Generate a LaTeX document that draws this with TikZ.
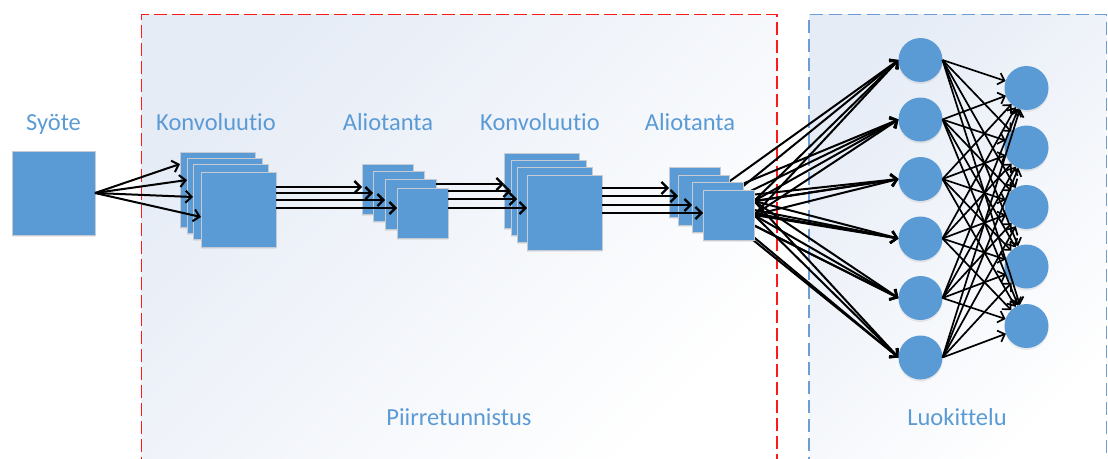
\documentclass[tikz,border=0pt]{standalone}
\usepackage{fontspec}
\setmainfont{Carlito}[Ligatures=NoCommon]
\usetikzlibrary{arrows.meta,shadows,calc}
\pgfdeclarelayer{bg}
\pgfdeclarelayer{fan}
\pgfsetlayers{bg,fan,main}

\definecolor{nodeblue}{HTML}{5B9BD5}
\definecolor{labelblue}{HTML}{5B9BD5}
\definecolor{sqedge}{HTML}{C6CBD3}
\definecolor{paneltop}{HTML}{E6ECF6}
\definecolor{redline}{HTML}{FF1A1A}
\definecolor{blueline}{HTML}{6E9DD6}

\begin{document}
\begin{tikzpicture}[
  x=1pt, y=-1pt,
  sq/.style={rectangle, fill=nodeblue, draw=sqedge, line width=0.8pt,
    inner sep=0pt, outer sep=0pt, anchor=north west,
    drop shadow={opacity=0.15, shadow xshift=0pt, shadow yshift=-2pt}},
  bigmap/.style={sq, minimum width=75pt, minimum height=75pt},
  smallmap/.style={sq, minimum width=51pt, minimum height=50pt},
  neuron/.style={circle, fill=nodeblue, minimum size=44pt, inner sep=0pt, outer sep=0pt,
    drop shadow={opacity=0.15, shadow xshift=0pt, shadow yshift=-2pt}},
  lbl/.style={text=labelblue, font=\fontsize{24.5}{29}\selectfont, anchor=base, inner sep=0pt},
  link/.style={draw=black, line width=2pt, -{Straight Barb[length=6pt,width=12pt]}},
  flow/.style={draw=black, line width=2.3pt, -{Straight Barb[length=6pt,width=12pt]}},
  redpanel/.style={draw=redline, line width=1.5pt, dash pattern=on 13pt off 5pt},
  bluepanel/.style={draw=blueline, line width=1.5pt, dash pattern=on 13pt off 6pt},
  panelfill/.style={top color=paneltop, middle color=paneltop!35!white,
    bottom color=white, shading angle=45}
]
\useasboundingbox (0,0) rectangle (1108,458);
\clip (0,0) rectangle (1108,458);

% two panels, open at the bottom
\begin{pgfonlayer}{bg}
  \shade[panelfill] (141.5,14.5) rectangle (777,470);
  \shade[panelfill] (809,14.5) rectangle (1106.5,470);
  \draw[redpanel] (141.5,470) -- (141.5,14.5) -- (777,14.5) -- (777,470);
  \draw[bluepanel] (809,470) -- (809,14.5) -- (1106.5,14.5) -- (1106.5,470);
\end{pgfonlayer}

% titles
\node[lbl] (tIn)  at (53.5,130) {Syöte};
\node[lbl] (tC1)  at (216,130)  {Konvoluutio};
\node[lbl] (tA1)  at (388,130)  {Aliotanta};
\node[lbl] (tC2)  at (540,130)  {Konvoluutio};
\node[lbl] (tA2)  at (690,130)  {Aliotanta};
\node[lbl] (tFe)  at (459,425)  {Piirretunnistus};
\node[lbl] (tCl)  at (957,425)  {Luokittelu};

% input
\node[sq, minimum width=83pt, minimum height=84pt] (inp) at (12,151) {};

% first convolution stack
\node[bigmap] (c1a) at (180,152) {};
\node[bigmap] (c1b) at (187,158) {};
\node[bigmap] (c1c) at (193,164) {};
\node[bigmap] (c1d) at (201,172) {};

% first subsampling stack
\node[smallmap] (a1a) at (362,164) {};
\node[smallmap] (a1b) at (373,171) {};
\node[smallmap] (a1c) at (385,179) {};
\node[smallmap] (a1d) at (397,188) {};

% second convolution stack
\node[bigmap] (c2a) at (504,153) {};
\node[bigmap] (c2b) at (511,160) {};
\node[bigmap] (c2c) at (517,167) {};
\node[bigmap] (c2d) at (527,175) {};

% second subsampling stack
\node[smallmap] (a2a) at (669,167) {};
\node[smallmap] (a2b) at (678,175) {};
\node[smallmap] (a2c) at (692,182) {};
\node[smallmap] (a2d) at (703,190) {};

% hidden layer
\foreach \i/\yy in {1/60,2/119.5,3/179,4/238.5,5/298,6/357.5}
  \node[neuron] (h\i) at (920.5,\yy) {};
% output layer
\foreach \j/\yy in {1/88,2/147.5,3/207,4/266.5,5/326}
  \node[neuron] (o\j) at (1026.5,\yy) {};

% input to first convolution
\foreach \yy/\t in {164/c1a,180/c1b,197/c1c,217/c1d}{
  \coordinate (p) at (0,\yy);
  \draw[link] (inp.east) -- (\t.west |- p);
}

% first convolution to first subsampling
\foreach \yy/\t in {187/a1a,193/a1b,200/a1c,208/a1d}{
  \coordinate (p) at (0,\yy);
  \draw[flow] (c1d.east |- p) -- (\t.west |- p);
}

% first subsampling to second convolution
\foreach \yy/\s/\t in {184/a1c/c2a,191/a1d/c2b,199/a1d/c2c,208/a1d/c2d}{
  \coordinate (p) at (0,\yy);
  \draw[flow] (\s.east |- p) -- (\t.west |- p);
}

% second convolution to second subsampling
\foreach \yy/\t in {188/a2a,196/a2b,205/a2c,213/a2d}{
  \coordinate (p) at (0,\yy);
  \draw[flow] (c2d.east |- p) -- (\t.west |- p);
}

% feature maps fan out to the hidden layer (drawn behind the maps)
\coordinate (f1) at (a2b.center);
\coordinate (f2) at (a2c.center);
\coordinate (f3) at ($(a2d.east)+(0,-14)$);
\coordinate (f4) at (a2d.east);
\begin{pgfonlayer}{fan}
  \foreach \i in {1,...,6}
    \foreach \f in {f1,f2,f3,f4}
      \draw[link] (\f) -- (h\i.west);
\end{pgfonlayer}

% fully connected hidden to output
\foreach \i in {1,...,6}
  \foreach \j in {1,...,5}
    \draw[link, line width=1.7pt] (h\i.east) -- (o\j);

\end{tikzpicture}
\end{document}
